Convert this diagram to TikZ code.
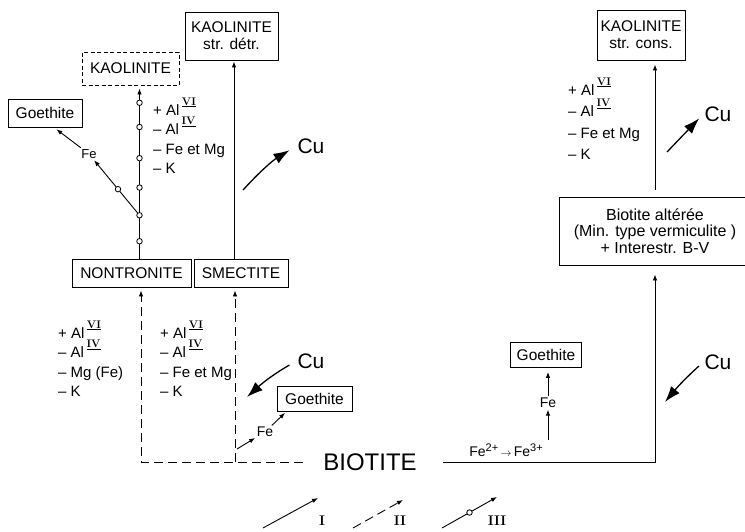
\documentclass[tikz,border=0pt]{standalone}
\usepackage{fontspec}
\setsansfont{Liberation Sans}
\usetikzlibrary{positioning, arrows.meta, calc}
\newcommand{\romsup}[1]{\,\smash{\raisebox{10pt}{\rmfamily\bfseries\fontsize{11}{11}\selectfont\underline{#1}}}}
\newcommand{\ionsup}[1]{\raisebox{5pt}{\fontsize{11}{11}\selectfont#1}}

\begin{document}
\begin{tikzpicture}[x=1pt, y=-1pt,
  every node/.style={font=\sffamily},
  box/.style={draw, line width=0.9pt, inner sep=1pt, align=center,
    font=\sffamily\fontsize{15.5}{17}\selectfont},
  dbox/.style={box, dash pattern=on 4pt off 2.5pt},
  lst/.style={anchor=west, align=left, inner sep=0pt,
    font=\sffamily\fontsize{15}{19.5}\selectfont},
  lbl/.style={inner sep=1.5pt, font=\sffamily\fontsize{14}{14}\selectfont},
  cu/.style={inner sep=1pt, font=\sffamily\fontsize{21}{21}\selectfont},
  num/.style={inner sep=1pt, font=\rmfamily\bfseries\fontsize{14}{14}\selectfont},
  flowI/.style={line width=0.9pt, -{Latex[length=6pt, width=4.5pt]}},
  flowII/.style={flowI, dash pattern=on 9pt off 5pt},
  flowIII/.style={flowI},
  ring/.style={circle, draw, fill=white, line width=0.8pt, inner sep=0pt, minimum size=5.5pt},
  cuarrow/.style={line width=1.3pt, -{Latex[length=16pt, width=11pt]}},
]
  \clip (0,0) rectangle (745,531);

  % minerals
  \node[box, minimum width=93pt, minimum height=48pt] (kdet) at (231.5,36) {KAOLINITE\\str. détr.};
  \node[dbox, minimum width=97pt, minimum height=33pt] (kdash) at (130.5,68.5) {KAOLINITE};
  \node[box, minimum width=74pt, minimum height=28pt] (goeA) at (45,113) {Goethite};
  \node[box, minimum width=119pt, minimum height=28pt] (nontr) at (131.5,273) {NONTRONITE};
  \node[box, minimum width=94pt, minimum height=28pt] (smec) at (241,273) {SMECTITE};
  \node[box, minimum width=75pt, minimum height=25pt] (goeB) at (314.5,398.5) {Goethite};
  \node[box, minimum width=71pt, minimum height=25pt] (goeC) at (546,355) {Goethite};
  \node[box, minimum width=88pt, minimum height=50pt] (kcons) at (641,35) {KAOLINITE\\str. cons.};
  \node[box, minimum width=192pt, minimum height=68pt,
    font=\sffamily\fontsize{16}{16.5}\selectfont] (balt) at (655,231)
    {Biotite altérée\\(Min. type vermiculite )\\+ Interestr. B-V};
  \node[inner sep=2pt, font=\sffamily\fontsize{24}{24}\selectfont] (bio) at (370,462) {BIOTITE};

  % gains and losses
  \node[lst] (chgA) at (153,139) {+ Al\romsup{VI}\\-- Al\romsup{IV}\\-- Fe et Mg\\-- K};
  \node[lst] (chgB) at (58,362) {+ Al\romsup{VI}\\-- Al\romsup{IV}\\-- Mg (Fe)\\-- K};
  \node[lst] (chgC) at (160,362) {+ Al\romsup{VI}\\-- Al\romsup{IV}\\-- Fe et Mg\\-- K};
  \node[lst, font=\sffamily\fontsize{15}{21.5}\selectfont] (chgD) at (568,122) {+ Al\romsup{VI}\\-- Al\romsup{IV}\\-- Fe et Mg\\-- K};

  % copper
  \node[cu] (cuA) at (311,146) {Cu};
  \node[cu] (cuB) at (311,361) {Cu};
  \node[cu] (cuC) at (718,362) {Cu};
  \node[cu] (cuD) at (718,114) {Cu};
  \coordinate (cuAt) at (243,190);
  \coordinate (cuBt) at (247,397);
  \coordinate (cuCt) at (665,402);
  \coordinate (cuDt) at (667,152);
  \draw[cuarrow, shorten >=8pt] (cuAt) to[bend left=8] (cuA.west);
  \draw[cuarrow, shorten <=8pt] (cuB.west) to[bend right=6] (cuBt);
  \draw[cuarrow, shorten <=6pt] (cuC.west) to[bend right=4] (cuCt);
  \draw[cuarrow, shorten >=6pt] (cuDt) -- (cuD.west);

  % nontronite -> kaolinite
  \draw[flowIII, shorten >=3pt] ([xshift=8pt]nontr.north) --
    node[ring, pos=0.10] {} node[ring, pos=0.25] (brA) {} node[ring, pos=0.41] {}
    node[ring, pos=0.58] {} node[ring, pos=0.76] {} node[ring, pos=0.90] {}
    ([xshift=9pt]kdash.south);
  \node[lbl, font=\sffamily\fontsize{13}{13}\selectfont] (feA) at (89,154) {Fe};
  \draw[flowIII] (brA) -- node[ring, pos=0.45] {} (feA);
  \draw[flowI, shorten >=3pt] (feA) -- ([xshift=9pt]goeA.south);

  % smectite -> kaolinite
  \draw[flowI, shorten >=1pt] ([xshift=-7pt]smec.north) -- ([xshift=2.5pt]kdet.south);

  % biotite, left side
  \coordinate (cnrL) at (141,462);
  \coordinate (cnrM) at (235,462);
  \draw[flowII, shorten >=3pt] ([xshift=-18pt]bio.west) -- (cnrL) -- (cnrL |- nontr.south);
  \draw[flowII, shorten >=3pt] (cnrM) -- (cnrM |- smec.south);
  \node[lbl] (feB) at (265,432) {Fe};
  \coordinate (feBt) at (237,449);
  \draw[flowI] (feBt) -- (feB);
  \draw[flowI, shorten >=2pt] (feB) -- ([xshift=-28pt]goeB.south);

  % biotite, right side
  \coordinate (cnrR) at (655,462);
  \draw[flowI, shorten >=9pt] ([xshift=24pt]bio.east) -- (cnrR) -- (cnrR |- balt.south);
  \node[lbl] (oxy) at (506,450)
    {Fe\ionsup{2+}\,{\fontsize{11}{11}\selectfont$\to$}\,Fe\ionsup{3+}};
  \node[lbl] (feC) at (548,403) {Fe};
  \coordinate (feCt) at (548,440);
  \draw[flowI] (feCt) -- (feC);
  \draw[flowI, shorten >=4pt] (feC) -- ([xshift=2pt]goeC.south);
  \draw[flowI, shorten <=7pt, shorten >=4pt] (balt.north) -- (balt.north |- kcons.south);

  % legend
  \coordinate (lgIa) at (263,528);
  \coordinate (lgIb) at (318,498);
  \coordinate (lgIIa) at (353,528);
  \coordinate (lgIIb) at (403,500);
  \coordinate (lgIIIa) at (442,528);
  \coordinate (lgIIIb) at (497,497);
  \draw[flowI] (lgIa) -- (lgIb);
  \draw[flowII] (lgIIa) -- (lgIIb);
  \draw[flowIII] (lgIIIa) -- node[ring, pos=0.5] {} (lgIIIb);
  \node[num] (lgI) at (322,521) {I};
  \node[num] (lgII) at (400,521) {II};
  \node[num] (lgIII) at (497,521) {III};
\end{tikzpicture}
\end{document}
